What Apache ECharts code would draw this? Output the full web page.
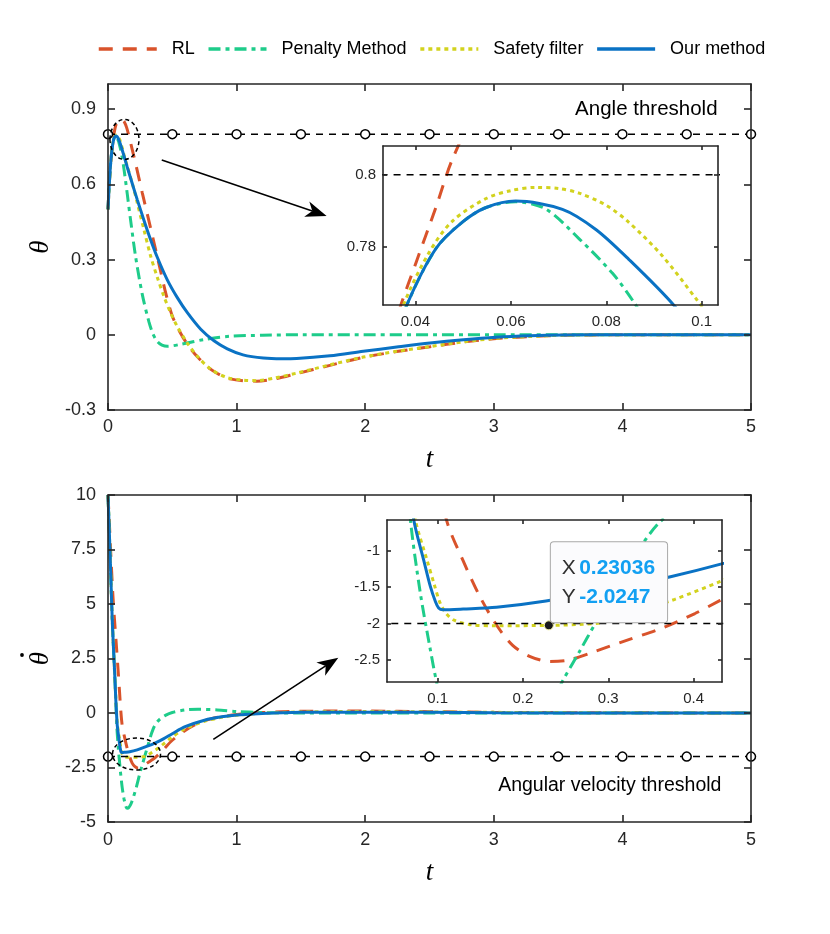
<!DOCTYPE html>
<html><head><meta charset="utf-8">
<script src="https://cdn.jsdelivr.net/npm/echarts@6/dist/echarts.min.js"></script>
<style>html,body{margin:0;padding:0;background:#fff}#c{width:830px;height:934px}</style>
</head><body><div id="c"></div>
<script>
// ---------- data ----------
const seriesNames = ['RL', 'Penalty Method', 'Safety filter', 'Our method'];

// theta(t): pairs [t, theta]
const rlTheta = [[0,0.5],[0.01,0.6],[0.02,0.68],[0.03,0.735],[0.037,0.764],[0.0401,0.7755],[0.0443,0.791],[0.0478,0.8045],[0.055,0.824],[0.065,0.841],[0.08,0.853],[0.095,0.858],[0.11,0.857],[0.125,0.85],[0.145,0.826],[0.17,0.778],[0.19,0.735],[0.215,0.682],[0.267,0.565],[0.332,0.424],[0.39,0.296],[0.453,0.158],[0.5,0.075],[0.557,0.013],[0.62,-0.04],[0.695,-0.088],[0.8,-0.138],[0.889,-0.165],[0.949,-0.176],[1.05,-0.183],[1.156,-0.185],[1.3,-0.176],[1.467,-0.155],[1.726,-0.122],[1.985,-0.09],[2.245,-0.067],[2.504,-0.048],[2.763,-0.029],[3.02,-0.015],[3.28,-0.007],[3.54,-0.002],[4,0],[4.5,0],[5,0]];
const penTheta = [[0,0.5],[0.01,0.6],[0.02,0.68],[0.03,0.735],[0.0382,0.7638],[0.0443,0.7795],[0.0499,0.7869],[0.0548,0.7909],[0.061,0.7925],[0.0673,0.7905],[0.0743,0.7822],[0.0813,0.7726],[0.0858,0.7645],[0.1,0.735],[0.112,0.702],[0.125,0.658],[0.137,0.612],[0.15,0.561],[0.176,0.456],[0.215,0.31],[0.267,0.16],[0.319,0.05],[0.35,0.003],[0.384,-0.027],[0.42,-0.041],[0.461,-0.046],[0.565,-0.038],[0.746,-0.019],[0.949,-0.006],[1.2,-0.002],[1.5,0],[3,0],[5,0]];
const sfTheta = [[0,0.5],[0.01,0.6],[0.02,0.68],[0.03,0.736],[0.0377,0.7645],[0.0429,0.7785],[0.0478,0.7872],[0.0548,0.7934],[0.06,0.7956],[0.0652,0.7965],[0.07,0.7962],[0.0743,0.7949],[0.08,0.7915],[0.0847,0.7868],[0.0917,0.7775],[0.099,0.7652],[0.11,0.746],[0.124,0.718],[0.15,0.672],[0.176,0.627],[0.2,0.582],[0.228,0.525],[0.28,0.418],[0.332,0.313],[0.384,0.228],[0.435,0.153],[0.487,0.087],[0.539,0.033],[0.617,-0.033],[0.695,-0.086],[0.798,-0.137],[0.928,-0.171],[1.058,-0.181],[1.156,-0.183],[1.3,-0.172],[1.467,-0.153],[1.726,-0.12],[1.985,-0.089],[2.245,-0.066],[2.504,-0.047],[2.763,-0.028],[3.02,-0.014],[3.28,-0.007],[3.54,-0.002],[4,0],[4.5,0],[5,0]];
const ourTheta = [[0,0.5],[0.01,0.6],[0.02,0.68],[0.03,0.735],[0.0382,0.7638],[0.0443,0.7795],[0.0499,0.7869],[0.0548,0.7909],[0.061,0.7927],[0.0708,0.7904],[0.0778,0.7848],[0.0847,0.7765],[0.0941,0.7638],[0.11,0.738],[0.13,0.703],[0.15,0.668],[0.176,0.624],[0.2,0.584],[0.228,0.538],[0.28,0.456],[0.332,0.378],[0.384,0.308],[0.461,0.219],[0.539,0.148],[0.617,0.088],[0.721,0.022],[0.824,-0.024],[0.928,-0.056],[1.05,-0.08],[1.208,-0.093],[1.35,-0.096],[1.467,-0.095],[1.726,-0.084],[1.985,-0.066],[2.245,-0.049],[2.504,-0.033],[2.763,-0.02],[3.02,-0.01],[3.28,-0.004],[3.54,-0.001],[4,0],[4.5,0],[5,0]];

// angular velocity(t): pairs [t, omega]
const rlOmega = [[0,10],[0.01,8.8],[0.02,7.5],[0.04,5.2],[0.062,3.35],[0.08,1.83],[0.09,0.95],[0.099,0.14],[0.111,-0.6],[0.13,-1.14],[0.1496,-1.63],[0.169,-2.02],[0.188,-2.3],[0.2078,-2.45],[0.231,-2.52],[0.254,-2.5],[0.285,-2.38],[0.324,-2.22],[0.3628,-2.064],[0.4016,-1.862],[0.4306,-1.685],[0.5,-1.25],[0.6,-0.8],[0.7,-0.47],[0.8,-0.27],[0.9,-0.15],[1.0,-0.07],[1.2,0.02],[1.5,0.08],[2,0.09],[2.5,0.06],[3,0.03],[4,0.01],[5,0]];
const penOmega = [[0,10],[0.008,8.7],[0.021,6.41],[0.034,4.12],[0.05,2.0],[0.06,0.7],[0.0682,-0.58],[0.0798,-1.584],[0.0915,-2.36],[0.0985,-2.79],[0.11,-3.4],[0.125,-3.95],[0.14,-4.3],[0.15,-4.37],[0.16,-4.35],[0.18,-4.15],[0.21,-3.62],[0.228,-3.23],[0.2465,-2.79],[0.266,-2.39],[0.285,-1.995],[0.305,-1.6],[0.3395,-0.92],[0.3628,-0.58],[0.4,-0.3],[0.45,-0.1],[0.5,0.02],[0.6,0.14],[0.7,0.17],[0.85,0.14],[1.0,0.07],[1.2,0.02],[1.5,0],[3,0],[5,0]];
const sfOmega = [[0,10],[0.008,8.7],[0.021,6.41],[0.034,4.12],[0.052,1.83],[0.06,0.75],[0.066,0.05],[0.074,-0.58],[0.0876,-1.128],[0.096,-1.46],[0.103,-1.72],[0.11,-1.86],[0.1186,-1.95],[0.138,-2.015],[0.169,-2.03],[0.23036,-2.0247],[0.27,-2.01],[0.293,-1.985],[0.32,-1.89],[0.378,-1.667],[0.4306,-1.425],[0.5,-1.1],[0.6,-0.72],[0.75,-0.38],[0.9,-0.18],[1.0,-0.1],[1.2,-0.02],[1.5,0.05],[2,0.07],[2.5,0.05],[3,0.03],[4,0.01],[5,0]];
const ourOmega = [[0,10],[0.008,8.7],[0.021,6.41],[0.034,4.12],[0.052,1.83],[0.06,0.7],[0.066,0.0],[0.0721,-0.58],[0.0837,-1.128],[0.0915,-1.49],[0.0975,-1.7],[0.1012,-1.785],[0.106,-1.81],[0.13,-1.8],[0.169,-1.776],[0.227,-1.69],[0.3,-1.535],[0.373,-1.356],[0.4306,-1.187],[0.5,-0.95],[0.6,-0.63],[0.75,-0.33],[0.9,-0.16],[1.0,-0.09],[1.2,-0.02],[1.5,0.03],[2,0.04],[2.5,0.03],[3,0.01],[4,0],[5,0]];

// thresholds
const thresholdT = [0,0.5,1,1.5,2,2.5,3,3.5,4,4.5,5];
const angleThreshold = 0.8;
const velocityThreshold = -2;
const dataTip = [0.23036, -2.0247];

// tick labels
const tTicks = [0,1,2,3,4,5];
const thetaTicks = [-0.3,0,0.3,0.6,0.9];
const omegaTicks = [-5,-2.5,0,2.5,5,7.5,10];
const insetThetaXTicks = [0.04,0.06,0.08,0.1];
const insetThetaYTicks = [0.78,0.8];
const insetOmegaXTicks = [0.1,0.2,0.3,0.4];
const insetOmegaYTicks = [-2.5,-2,-1.5,-1];

// ---------- styles ----------
const AX = '#262626';
const FONT = '"Liberation Sans", Arial, Helvetica, sans-serif';
const SERIF = '"Liberation Serif", "DejaVu Serif", serif';
const styles = [
  {color:'#D9532B', type:[14,10]},
  {color:'#1ECC8A', type:[12,5,4,5]},
  {color:'#D2D21E', type:[4,4]},
  {color:'#0A72C4', type:'solid'}
];
const fmt = v => String(Math.round(v*1e6)/1e6);

function axes(kind, gridIndex, min, max, ticks, tickLen, fontSize, margin, z, name, nameGap, nameSize) {
  const base = {
    type:'value', gridIndex, min, max, z,
    axisLine:{show:true, onZero:false, lineStyle:{color:AX, width:1.6}},
    splitLine:{show:false},
    axisTick:{show:true, inside:true, length:tickLen, customValues:ticks, lineStyle:{color:AX, width:1.6}}
  };
  const primary = Object.assign({}, base, {
    position: kind === 'x' ? 'bottom' : 'left',
    axisLabel:{show:true, customValues:ticks, formatter:fmt, fontSize, color:AX, fontFamily:FONT, margin}
  });
  if (name) {
    primary.name = name;
    primary.nameLocation = 'middle';
    primary.nameGap = nameGap;
    primary.nameTextStyle = {fontFamily:SERIF, fontStyle:'italic', fontSize:nameSize, color:'#000'};
  }
  const secondary = Object.assign({}, base, {
    position: kind === 'x' ? 'top' : 'right',
    axisLabel:{show:false}
  });
  return [primary, secondary];
}

const xAxis = [].concat(
  axes('x', 0, 0, 5, tTicks, 7, 18, 8, 5, 't', 36, 27),
  axes('x', 1, 0, 5, tTicks, 7, 18, 9, 5, 't', 37, 27),
  axes('x', 2, 0.0332, 0.1034, insetThetaXTicks, 4, 15, 9, 6),
  axes('x', 3, 0.0407, 0.4333, insetOmegaXTicks, 4, 15, 9, 6)
);
const yAxis = [].concat(
  axes('y', 0, -0.3, 1.0, thetaTicks, 7, 18, 12, 5, 'θ', 50, 27),
  axes('y', 1, -5, 10, omegaTicks, 7, 18, 12, 5, 'θ', 50, 27),
  axes('y', 2, 0.7638, 0.808, insetThetaYTicks, 4, 15, 7, 6),
  axes('y', 3, -2.803, -0.577, insetOmegaYTicks, 4, 15, 7, 6)
);

const thetaSets = [rlTheta, penTheta, sfTheta, ourTheta];
const omegaSets = [rlOmega, penOmega, sfOmega, ourOmega];

const series = [];
function addCurves(sets, axisIdx, z) {
  sets.forEach((d, i) => {
    series.push({
      type:'line', name:seriesNames[i], data:d,
      xAxisIndex:axisIdx, yAxisIndex:axisIdx,
      symbol:'none', smooth:0.3, z, silent:true,
      lineStyle:{color:styles[i].color, type:styles[i].type, width:3},
      itemStyle:{color:styles[i].color}
    });
  });
}
function addThreshold(value, axisIdx, z, markers) {
  series.push({
    type:'line', name:'threshold', data:thresholdT.map(t => [t, value]),
    xAxisIndex:axisIdx, yAxisIndex:axisIdx, z, silent:true, clip: !markers,
    symbol: markers ? 'circle' : 'none', symbolSize:9, showSymbol: markers,
    lineStyle:{color:'#000', type:[7,6], width:1.5},
    itemStyle:{color:'#fff', borderColor:'#000', borderWidth:1.5}
  });
}
addCurves(thetaSets, 0, 2);
addThreshold(angleThreshold, 0, 2.5, true);
addCurves(omegaSets, 2, 2);
addThreshold(velocityThreshold, 2, 2.5, true);
addCurves(thetaSets, 4, 4);
addThreshold(angleThreshold, 4, 4, false);
addCurves(omegaSets, 6, 4);
addThreshold(velocityThreshold, 6, 4, false);

// data tip on the safety-filter curve of the velocity inset
const sfInset = series.filter(s => s.xAxisIndex === 6 && s.name === 'Safety filter')[0];
sfInset.markPoint = {
  silent:true, z:10, symbol:'circle', symbolSize:9,
  itemStyle:{color:'#1a1a1a', borderColor:'#f2f2a0', borderWidth:1},
  data:[{coord:dataTip}],
  label:{
    show:true, position:[7, 2], align:'left', verticalAlign:'bottom',
    formatter:'{k|X} {v|' + dataTip[0] + '}\n{k|Y} {v|' + dataTip[1] + '}',
    backgroundColor:'#fbfbfd', borderColor:'#a8a8a8', borderWidth:1, borderRadius:3,
    padding:[11, 12, 11, 11],
    rich:{
      k:{color:'#303030', fontSize:21, fontFamily:FONT, lineHeight:29},
      v:{color:'#12A0F2', fontSize:21, fontFamily:FONT, fontWeight:'bold', lineHeight:29}
    }
  }
};

const option = {
  animation:false,
  backgroundColor:'#fff',
  legend:{
    data:seriesNames, left:97, top:40, padding:0, itemWidth:58, itemHeight:14, itemGap:12,
    itemStyle:{color:'transparent', borderColor:'transparent', borderWidth:0, opacity:0},
    lineStyle:{width:3.5},
    textStyle:{fontSize:18, fontFamily:FONT, color:'#000', padding:[0,0,0,10]},
    selectedMode:false
  },
  grid:[
    {left:108, top:84, width:643, height:326, outerBoundsMode:'none'},
    {left:108, top:495, width:643, height:327, outerBoundsMode:'none'},
    {left:383, top:146, width:335, height:159, show:true, backgroundColor:'#fff', borderWidth:0, z:3, outerBoundsMode:'none'},
    {left:387, top:520, width:335, height:162, show:true, backgroundColor:'#fff', borderWidth:0, z:3, outerBoundsMode:'none'}
  ],
  xAxis, yAxis, series
};

const chart = echarts.init(document.getElementById('c'), null, {renderer:'canvas'});
chart.setOption(option);

// ---------- annotations positioned through the axes ----------
const P = (g, x, y) => chart.convertToPixel({gridIndex:g}, [x, y]);
function arrow(a, b) {
  const dx = b[0]-a[0], dy = b[1]-a[1], L = Math.hypot(dx, dy), ux = dx/L, uy = dy/L;
  const hl = 21, hw = 8;
  const bx = b[0]-ux*hl, by = b[1]-uy*hl;
  const nx = b[0]-ux*hl*0.72, ny = b[1]-uy*hl*0.72;
  return [
    {type:'line', z:20, silent:true, shape:{x1:a[0], y1:a[1], x2:nx, y2:ny}, style:{stroke:'#000', lineWidth:1.6}},
    {type:'polygon', z:20, silent:true, shape:{points:[[b[0],b[1]],[bx-uy*hw, by+ux*hw],[nx,ny],[bx+uy*hw, by-ux*hw]]}, style:{fill:'#000'}}
  ];
}
function ellipse(c, rx, ry) {
  return {type:'ellipse', z:20, silent:true, shape:{cx:c[0], cy:c[1], rx, ry}, style:{fill:'none', stroke:'#000', lineWidth:1.5, lineDash:[4,3]}};
}
function label(p, text, size) {
  return {type:'text', z:20, silent:true, x:p[0], y:p[1], style:{text, align:'right', verticalAlign:'middle', font:size + 'px ' + FONT, fill:'#000'}};
}
const axisOrigin = P(1, 0, 2.5);
chart.setOption({
  graphic:[].concat(
    ellipse(P(0, 0.128, 0.779), 14.5, 20),
    arrow(P(0, 0.418, 0.697), P(0, 1.70, 0.474)),
    label(P(0, 4.74, 0.9), 'Angle threshold', 20.5),
    ellipse(P(1, 0.222, -1.88), 24, 16),
    arrow(P(1, 0.819, -1.21), P(1, 1.791, 2.54)),
    label(P(1, 4.77, -3.35), 'Angular velocity threshold', 19.5),
    // the dot of the rotated θ̇ axis name
    [{type:'circle', z:20, silent:true, shape:{cx:axisOrigin[0]-86, cy:axisOrigin[1]-3.5, r:1.9}, style:{fill:'#000'}}]
  )
});
</script>
</body></html>
